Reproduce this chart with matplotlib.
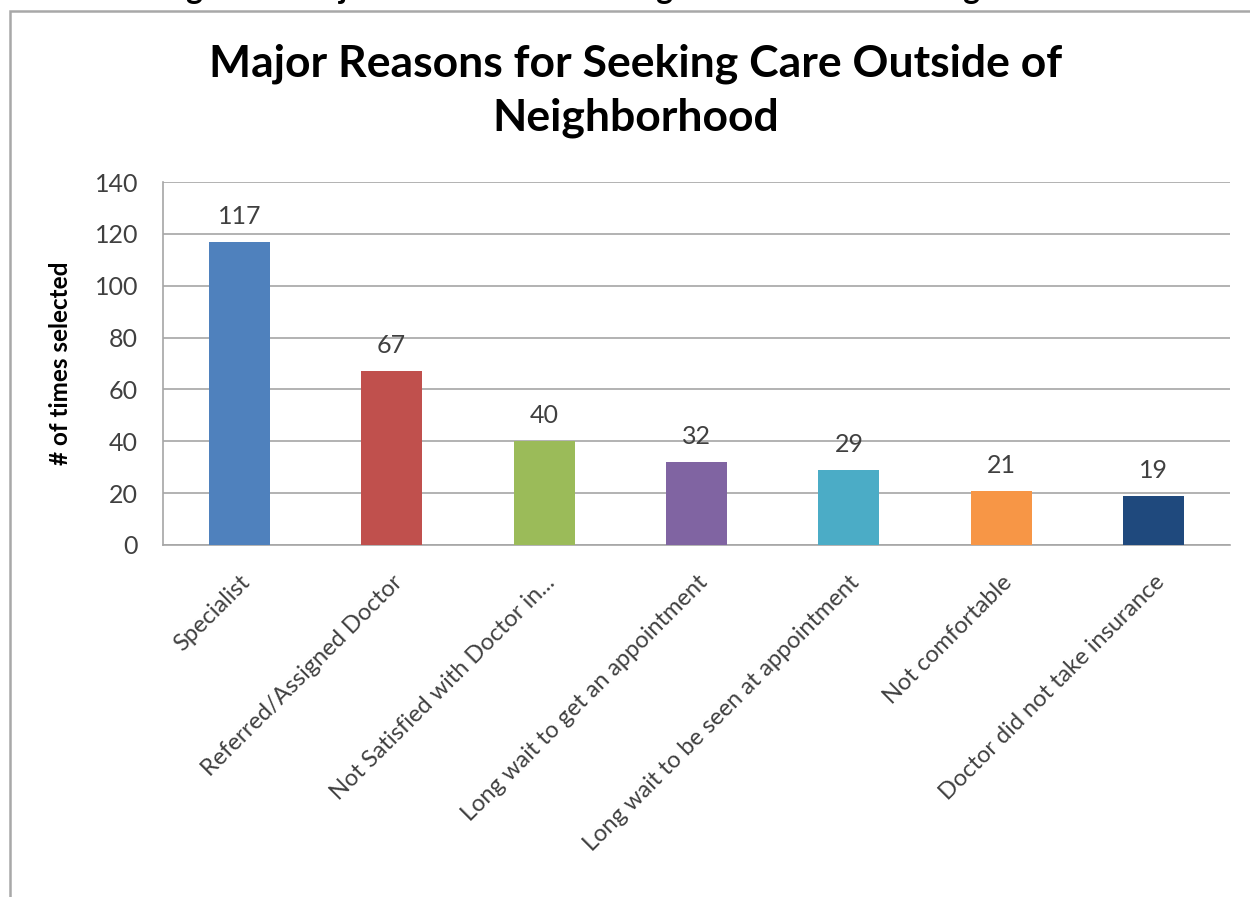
import matplotlib
matplotlib.use("Agg")
import matplotlib.pyplot as plt
from matplotlib.patches import Rectangle

plt.rcParams['font.family'] = ['Lato', 'DejaVu Sans']

reasons = ["Specialist", "Referred/Assigned Doctor", "Not Satisfied with Doctor in...",
           "Long wait to get an appointment", "Long wait to be seen at appointment",
           "Not comfortable", "Doctor did not take insurance"]
counts = [117, 67, 40, 32, 29, 21, 19]
colors = ["#4f81bd", "#c0504d", "#9bbb59", "#8064a2", "#4bacc6", "#f79646", "#1f497d"]
y_ticks = [0, 20, 40, 60, 80, 100, 120, 140]

title = "Major Reasons for Seeking Care Outside of\nNeighborhood"
caption = "Figure 7: Major Reasons for Seeking Care Outside of Neighborhood"

fig = plt.figure(figsize=(12.5, 8.97), dpi=100)
W, H = 1250, 897

# chart frame
fig.patches.append(Rectangle((10 / W, -0.1), 1.2, 1 - 11 / H + 0.1, transform=fig.transFigure,
                             fill=False, edgecolor="#a8a8a8", linewidth=1.8))

# caption line above the chart, mostly cut off by the page edge
fig.text(640 / W, 1.0 + 1 / H, caption, ha="center", va="baseline", fontsize=23,
         fontweight="bold", color="black")

ax = fig.add_axes([163 / W, 1 - 545 / H, (1230 - 163) / W, (545 - 182) / H])
x = range(len(reasons))
ax.bar(x, counts, width=0.4, color=colors, zorder=3)

for xi, c in zip(x, counts):
    ax.annotate(str(c), (xi, c), xytext=(0, 10), textcoords="offset points",
                ha="center", va="bottom", fontsize=18, color="#404040")

ax.set_xlim(-0.5, len(reasons) - 0.5)
ax.set_ylim(0, 140)
ax.set_yticks(y_ticks)
ax.yaxis.grid(True, color="#a6a6a6", linewidth=1.2, zorder=0)
ax.tick_params(axis="both", length=0, labelcolor="#404040")
ax.tick_params(axis="y", pad=18, labelsize=18)
ax.tick_params(axis="x", pad=19, labelsize=17)
ax.set_xticks(list(x))
ax.set_xticklabels(reasons, rotation=45, ha="right", rotation_mode="anchor")

for side in ["top", "right"]:
    ax.spines[side].set_visible(False)
for side in ["left", "bottom"]:
    ax.spines[side].set_color("#a6a6a6")
    ax.spines[side].set_linewidth(1.2)

ax.set_ylabel("# of times selected", fontsize=17.5, fontweight="bold", labelpad=16)

fig.text(636 / W, 1 - 91 / H, title, ha="center", va="center", fontsize=32,
         fontweight="bold", linespacing=1.4)

fig.savefig("out.png", dpi=100)
